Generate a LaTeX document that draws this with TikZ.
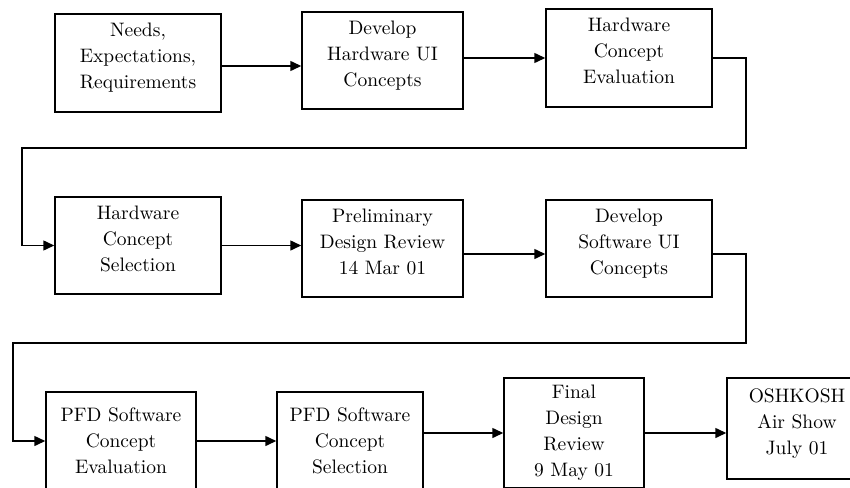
\documentclass[tikz,border=0pt]{standalone}
\usepackage{fontspec}
\setmainfont{lmroman10-regular}[Extension=.otf]
\usepackage{tikz}
\usetikzlibrary{shapes,arrows,arrows.meta,positioning,calc}

\newcommand{\padlow}{\\[-12pt]\mbox{}}

\tikzset{
    stage/.style={draw, line width=1.5pt, align=center, inner sep=2pt,
        font=\fontsize{19.5}{26}\selectfont},
    flow/.style={line width=1.5pt, -{Triangle[length=11pt,width=10pt]}},
}

\begin{document}
\begin{tikzpicture}[x=1pt,y=-1pt]
    \clip (0,0) rectangle (850,487);
    \fill[white] (0,0) rectangle (850,487);

    % Hardware row
    \node[stage, minimum width=166pt, minimum height=98pt] (needs) at (138,63) {Needs,\\Expectations,\\Requirements\padlow};
    \node[stage, minimum width=161pt, minimum height=97pt] (hwui) at (382.5,60.5) {Develop\\Hardware UI\\Concepts\padlow};
    \node[stage, minimum width=166pt, minimum height=98pt] (hweval) at (629,58) {Hardware\\Concept\\Evaluation\padlow};

    % Selection and software row
    \node[stage, minimum width=166pt, minimum height=97pt] (hwsel) at (138,245.5) {Hardware\\Concept\\Selection\padlow};
    \node[stage, minimum width=161pt, minimum height=97pt] (pdr) at (382.5,248.5) {Preliminary\\Design Review\\14 Mar 01\padlow};
    \node[stage, minimum width=166pt, minimum height=97pt] (swui) at (629,248.5) {Develop\\Software UI\\Concepts\padlow};

    % PFD row
    \node[stage, minimum width=150pt, minimum height=98pt] (pfdeval) at (121,441) {PFD Software\\Concept\\Evaluation};
    \node[stage, minimum width=146pt, minimum height=98pt] (pfdsel) at (350,441) {PFD Software\\Concept\\Selection};
    \node[stage, minimum width=140pt, minimum height=110pt] (fdr) at (574,433) {Final\\Design\\Review\\9 May 01};
    \node[stage, minimum width=140pt, minimum height=101pt] (oshkosh) at (797,428.5) {OSHKOSH\\Air Show\\July 01\padlow};

    % links
    \draw[flow] ([yshift=-3pt]needs.east) -- ([yshift=-3pt]needs.east -| hwui.west);
    \draw[flow] (hwui.east |- hweval.west) -- (hweval.west);
    \draw[flow] (hweval.east) -- ++(33,0) -- ++(0,90) -- (22,148) |- (hwsel.west);
    \draw[flow] (hwsel.east) -- (hwsel.east -| pdr.west);
    \draw[flow] ([yshift=-5.5pt]pdr.east) -- ([yshift=-5.5pt]pdr.east -| swui.west);
    \draw[flow] ([yshift=-5.5pt]swui.east) -- ++(33,0) -- ++(0,89) -- (13,343) |- (pfdeval.west);
    \draw[flow] (pfdeval.east) -- (pfdeval.east -| pfdsel.west);
    \draw[flow] (pfdsel.east |- fdr.west) -- (fdr.west);
    \draw[flow] (fdr.east) -- (fdr.east -| oshkosh.west);
\end{tikzpicture}
\end{document}
